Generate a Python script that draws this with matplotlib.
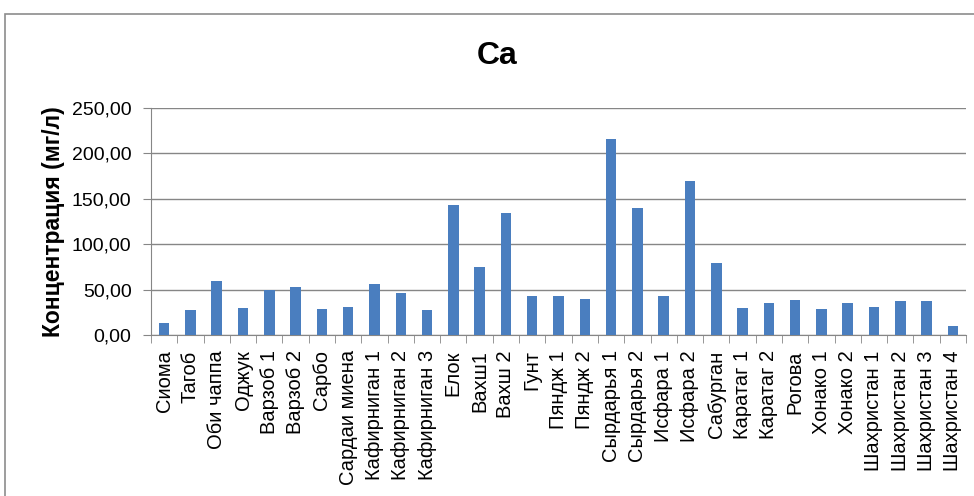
import matplotlib
matplotlib.use("Agg")
import matplotlib.pyplot as plt
from matplotlib.patches import Rectangle

# Ca concentration per sampling site, mg/l
sites = ["Сиома", "Тагоб", "Оби чаппа", "Оджук", "Варзоб 1", "Варзоб 2", "Сарбо",
         "Сардаи миена", "Кафирниган 1", "Кафирниган 2", "Кафирниган 3", "Елок",
         "Вахш1", "Вахш 2", "Гунт", "Пяндж 1", "Пяндж 2", "Сырдарья 1", "Сырдарья 2",
         "Исфара 1", "Исфара 2", "Сабурган", "Каратаг 1", "Каратаг 2", "Рогова",
         "Хонако 1", "Хонако 2", "Шахристан 1", "Шахристан 2", "Шахристан 3",
         "Шахристан 4"]
ca = [13, 27, 60, 30, 50, 53, 29, 31, 56.5, 46, 27, 143, 74.5, 134.5, 43, 43,
      39.5, 215.5, 140, 43, 170, 79, 30, 35.5, 38.5, 28.5, 35.5, 31, 37, 37, 9.5]
yticks = [0, 50, 100, 150, 200, 250]

font = "Liberation Sans"

fig = plt.figure(figsize=(9.74, 4.96), dpi=100)
fig.patches.append(Rectangle((5 / 974, -0.01), 1.0, 1 - 14 / 496 + 0.01,
                             transform=fig.transFigure, fill=False,
                             edgecolor="#8c8c8c", linewidth=1.2))

ax = fig.add_axes([151 / 974, 161 / 496, 815 / 974, 227 / 496])
x = list(range(len(sites)))
ax.bar(x, ca, width=0.4, color="#4a7ebf", zorder=3)

ax.set_xlim(-0.5, len(sites) - 0.5)
ax.set_ylim(0, 250)
ax.set_yticks(yticks)
ax.set_yticklabels([f"{v:.2f}".replace(".", ",") for v in yticks],
                   family=font, fontsize=14)
ax.yaxis.grid(True, color="#868686", linewidth=1, zorder=0)
ax.tick_params(axis="y", length=6, color="#868686", pad=8)

# category labels centred, tick marks on category boundaries
ax.set_xticks(x)
ax.set_xticklabels(sites, rotation=90, family=font, fontsize=14.5)
ax.tick_params(axis="x", which="major", length=0, pad=11)
ax.set_xticks([i - 0.5 for i in range(len(sites) + 1)], minor=True)
ax.tick_params(axis="x", which="minor", length=6, color="#868686")

for s in ["top", "right"]:
    ax.spines[s].set_visible(False)
for s in ["left", "bottom"]:
    ax.spines[s].set_color("#868686")

ax.set_ylabel("Концентрация (мг/л)", family=font, fontsize=16.5,
              fontweight="bold", labelpad=5)
fig.text(497 / 974, 440 / 496, "Ca", family=font, fontsize=23,
         fontweight="bold", ha="center", va="center")

fig.savefig("out.png", dpi=100)
